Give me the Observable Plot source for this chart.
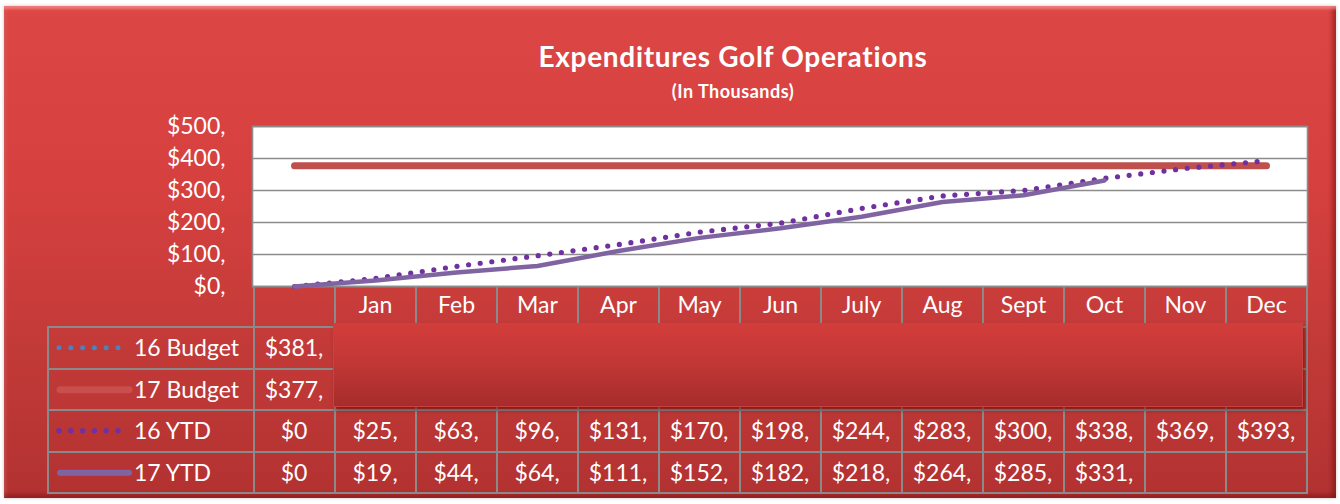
<!DOCTYPE html>
<html>
<head>
<meta charset="utf-8">
<script src="https://cdn.jsdelivr.net/npm/d3@7"></script>
<script src="https://cdn.jsdelivr.net/npm/@observablehq/plot@0.6"></script>
<style>
  html, body { margin: 0; padding: 0; background: #fff; }
  #root { position: relative; width: 1340px; height: 504px; overflow: hidden; background: #fff; font-family: Lato, "Open Sans", sans-serif; }
  #bg { position: absolute; left: 4px; top: 6px; width: 1332px; height: 492px;
        background: linear-gradient(to bottom, #dc4644 0%, #d6413f 35%, #c23a38 70%, #b23231 100%);
        box-shadow: inset 0 5px 3px -2px rgba(255,150,150,0.7), inset -5px 0 4px -1px rgba(110,10,10,0.45), inset 0 -5px 4px -1px rgba(110,10,10,0.4), inset 3px 0 3px -1px rgba(255,150,150,0.3), 0 0 3px rgba(0,0,0,0.25); }
  .ttl { position: absolute; left: 383px; width: 700px; text-align: center; color: #fff; font-weight: bold; }
  #title { top: 42px; font-size: 28px; line-height: 28px; letter-spacing: 0.7px; }
  #sub { top: 82px; font-size: 18px; line-height: 18px; letter-spacing: 0.5px; }
  #chart { position: absolute; left: 0; top: 0; }
  .cell { position: absolute; box-sizing: border-box; border: 2px solid #8a8a8a; color: #fff; font-size: 23px; text-align: center; white-space: nowrap; overflow: hidden; }
  #box { position: absolute; left: 333px; top: 323px; width: 970px; height: 84px; box-sizing: border-box;
         background: linear-gradient(to bottom, #d23d3a 0%, #c03735 50%, #a62c2b 100%);
         border: 1px solid #c8423f; box-shadow: 2px 3px 4px rgba(70,0,0,0.5); }
</style>
</head>
<body>
<div id="root">
  <div id="bg"></div>
  <div id="title" class="ttl">Expenditures Golf Operations</div>
  <div id="sub" class="ttl">(In Thousands)</div>
  <div id="table"></div>
  <div id="box"></div>
  <div id="chart"></div>
</div>
<script>
// ---- data ----
const categories = ["", "Jan", "Feb", "Mar", "Apr", "May", "Jun", "July", "Aug", "Sept", "Oct", "Nov", "Dec"];
const budget16 = [381, 381, 381, 381, 381, 381, 381, 381, 381, 381, 381, 381, 381];
const budget17 = [377, 377, 377, 377, 377, 377, 377, 377, 377, 377, 377, 377, 377];
const ytd16 = [0, 25, 63, 96, 131, 170, 198, 244, 283, 300, 338, 369, 393];
const ytd17 = [0, 19, 44, 64, 111, 152, 182, 218, 264, 285, 331];
const yTicks = [0, 100, 200, 300, 400, 500];
const seriesNames = ["16 Budget", "17 Budget", "16 YTD", "17 YTD"];
const seriesValues = [budget16, budget17, ytd16, ytd17];

const colors = { b16: "#4f81bd", b17: "#c0504d", y16: "#7030a0", y17: "#8064a2" };

const chart = Plot.plot({
  width: 1340,
  height: 504,
  marginTop: 126,
  marginBottom: 218,
  marginLeft: 252,
  marginRight: 33,
  style: { background: "transparent", color: "white", fontFamily: "Lato, 'Open Sans', sans-serif", overflow: "visible" },
  x: { type: "point", domain: categories, padding: 0.5, align: 0.5 },
  y: { domain: [0, 500] },
  marks: [
    Plot.frame({ fill: "white" }),
    Plot.ruleY(yTicks, { stroke: "#8c8c8c", strokeWidth: 1.6 }),
    Plot.frame({ stroke: "#8c8c8c", strokeWidth: 1.6 }),
    Plot.axisY({ ticks: yTicks, tickSize: 0, tickPadding: 27, tickFormat: d => `$${d},`, fontSize: 23, fill: "white", label: null }),
    Plot.axisX({ tickSize: 0, tickPadding: 10, fontSize: 23, fill: "white", label: null }),
    Plot.lineY(budget16, { x: categories, stroke: colors.b16, strokeWidth: 3.5, strokeDasharray: "0 11.5", strokeLinecap: "round" }),
    Plot.lineY(budget17, { x: categories, stroke: colors.b17, strokeWidth: 7, strokeLinecap: "round" }),
    Plot.lineY(ytd16, { x: categories, stroke: colors.y16, strokeWidth: 5.2, strokeDasharray: "0 11.7", strokeLinecap: "round" }),
    Plot.lineY(ytd17, { x: categories.slice(0, ytd17.length), stroke: colors.y17, strokeWidth: 4.5, strokeLinecap: "round", strokeLinejoin: "round" })
  ]
});
document.getElementById("chart").appendChild(chart);

// ---- data table (aligned to the chart's x scale) ----
const xs = chart.scale("x");
const step = xs.apply(categories[1]) - xs.apply(categories[0]);
const rowTops = [286, 327, 368.5, 410, 451.5, 493];
const legendLeft = 48;
const table = d3.select("#table");
const fmt = d => d === 0 ? "$0" : `$${d},`;

function cell(x, y, w, h) {
  return table.append("div").attr("class", "cell")
    .style("left", (x - 1) + "px").style("top", (y - 1) + "px")
    .style("width", (w + 2) + "px").style("height", (h + 2) + "px")
    .style("line-height", (h - 2) + "px");
}

// header row
categories.forEach(c => {
  cell(xs.apply(c) - step / 2, rowTops[0], step, rowTops[1] - rowTops[0]);
});

// legend swatches
const swatch = [
  { dots: true, color: colors.b16, w: 5 },
  { dots: false, color: "#c94e4c", w: 7 },
  { dots: true, color: colors.y16, w: 5.5 },
  { dots: false, color: colors.y17, w: 6 }
];

seriesNames.forEach((name, r) => {
  const y0 = rowTops[r + 1], h = rowTops[r + 2] - rowTops[r + 1];
  const lc = cell(legendLeft, y0, xs.apply(categories[0]) - step / 2 - legendLeft, h)
    .style("text-align", "left").style("padding-left", "85px");
  lc.text(name);
  const s = swatch[r];
  const svg = lc.append("svg").attr("width", 84).attr("height", h)
    .style("position", "absolute").style("left", "0px").style("top", "0px");
  const cy = h / 2 - 1;
  if (s.dots) {
    svg.append("line").attr("x1", 10).attr("x2", 71).attr("y1", cy).attr("y2", cy)
      .attr("stroke", s.color).attr("stroke-width", s.w).attr("stroke-linecap", "round")
      .attr("stroke-dasharray", "0 11.8");
  } else {
    svg.append("line").attr("x1", 11).attr("x2", 80).attr("y1", cy).attr("y2", cy)
      .attr("stroke", s.color).attr("stroke-width", s.w).attr("stroke-linecap", "round");
  }
  categories.forEach((c, i) => {
    const v = seriesValues[r][i];
    cell(xs.apply(c) - step / 2, y0, step, h).text(v === undefined ? "" : fmt(v));
  });
});
</script>
</body>
</html>
